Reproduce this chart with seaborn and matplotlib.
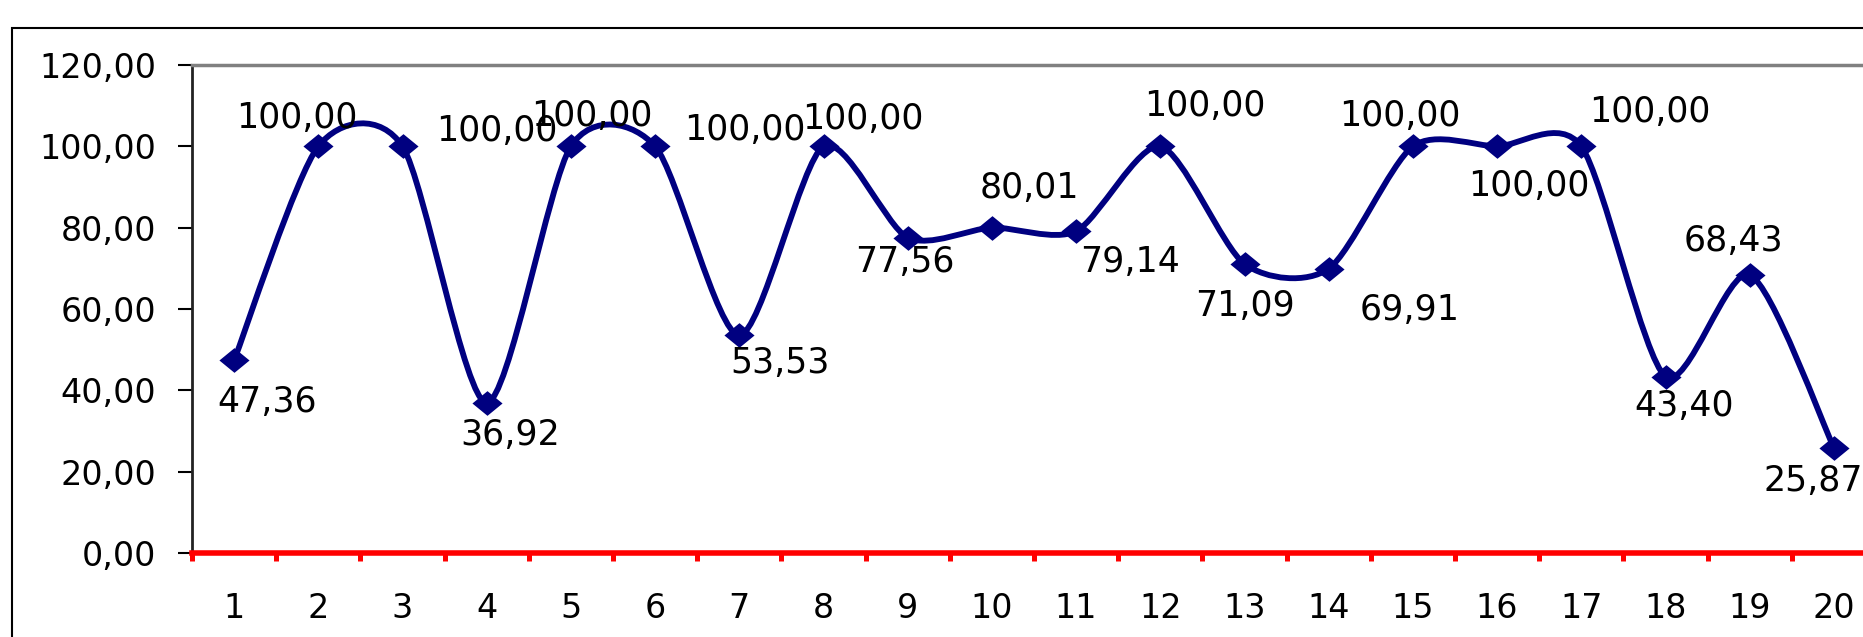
"""Smoothed line chart with data labels (comma decimal style)."""
import matplotlib
matplotlib.use("Agg")
import numpy as np
import pandas as pd
import matplotlib.pyplot as plt
import seaborn as sns
from matplotlib.path import Path
from matplotlib.patches import PathPatch, Rectangle

# data
categories = list(range(1, 21))
values = [47.36, 100.00, 100.00, 36.92, 100.00, 100.00, 53.53, 100.00, 77.56, 80.01,
          79.14, 100.00, 71.09, 69.91, 100.00, 100.00, 100.00, 43.40, 68.43, 25.87]
y_ticks = [0, 20, 40, 60, 80, 100, 120]

# label placement (pixel offsets from each point, y down)
label_dx = [33, -21, 94, 23, 21, 90, 41, 39, -3, 37, 54, 45, 0, 81, -13, 32, 69, 19, -16, -21]
label_dy = [42, -28, -15, 32, -30, -16, 28, -27, 24, -40, 31, -40, 42, 41, -30, 40, -34, 29, -34, 33]

NAVY = "#000080"
W, H = 1863, 637


def fmt(v):
    return f"{v:.2f}".replace(".", ",")


def smooth_path(x, y, k=0.13):
    """Bezier path through the points (Excel-like smoothed line)."""
    pts = np.column_stack([x, y]).astype(float)
    n = len(pts)
    verts = [pts[0]]
    codes = [Path.MOVETO]
    for i in range(n - 1):
        prev = pts[i - 1] if i > 0 else pts[i]
        nxt = pts[i + 2] if i + 2 < n else pts[i + 1]
        c1 = pts[i] + (pts[i + 1] - prev) * k
        c2 = pts[i + 1] - (nxt - pts[i]) * k
        verts += [c1, c2, pts[i + 1]]
        codes += [Path.CURVE4] * 3
    return Path(verts, codes)


sns.set_style("white")
plt.rcParams["font.family"] = ["DejaVu Sans"]
plt.rcParams["xtick.major.pad"] = 28
plt.rcParams["xtick.major.size"] = 0

df = pd.DataFrame({"cat": categories, "value": values})

fig = plt.figure(figsize=(W / 100, H / 100), dpi=100)
ax = fig.add_axes([192 / W, 84 / H, 1684 / W, 488 / H])

ax.add_patch(PathPatch(smooth_path(df["cat"], df["value"]), fill=False,
                       edgecolor=NAVY, linewidth=4.2, zorder=2,
                       capstyle="round", joinstyle="round"))

diamond = Path([(-1, 0), (0, 0.82), (1, 0), (0, -0.82), (-1, 0)],
               [Path.MOVETO, Path.LINETO, Path.LINETO, Path.LINETO, Path.CLOSEPOLY])
sns.scatterplot(data=df, x="cat", y="value", marker=diamond, s=470,
                color=NAVY, linewidth=0, zorder=3, ax=ax, legend=False)

for x, v, dx, dy in zip(categories, values, label_dx, label_dy):
    ax.annotate(fmt(v), (x, v), xytext=(dx, -dy), textcoords="offset pixels",
                ha="center", va="center", fontsize=25, color="black",
                annotation_clip=False)

ax.set_xlim(categories[0] - 0.5, categories[-1] + 0.5)
ax.set_ylim(y_ticks[0], y_ticks[-1])
ax.set_xlabel("")
ax.set_ylabel("")

ax.set_xticks(categories)
ax.set_xticklabels([str(c) for c in categories])
ax.set_xticks([c - 0.5 for c in categories] + [categories[-1] + 0.5], minor=True)
ax.set_yticks(y_ticks)
ax.set_yticklabels([fmt(t) for t in y_ticks])

ax.tick_params(axis="x", which="major", length=0, pad=28, labelsize=24,
               labelcolor="black", bottom=True)
ax.tick_params(axis="x", which="minor", length=6, width=3.6, color="red",
               direction="out", bottom=True)
ax.tick_params(axis="y", length=10, width=1.5, color="black", pad=16,
               labelsize=24, labelcolor="black", direction="out", left=True)

ax.spines["left"].set_color("#222222")
ax.spines["left"].set_linewidth(2)
ax.spines["top"].set_color("#808080")
ax.spines["top"].set_linewidth(2.5)
ax.spines["right"].set_visible(False)
ax.spines["bottom"].set_color("red")
ax.spines["bottom"].set_linewidth(4)
ax.spines["bottom"].set_zorder(4)

# outer chart frame (cropped on the right and bottom)
fig.add_artist(Rectangle((12 / W, -0.1), 1.2, (H - 28) / H + 0.1,
                         transform=fig.transFigure, fill=False,
                         edgecolor="black", linewidth=1.5))

fig.savefig("out.png", dpi=100)
plt.close(fig)
